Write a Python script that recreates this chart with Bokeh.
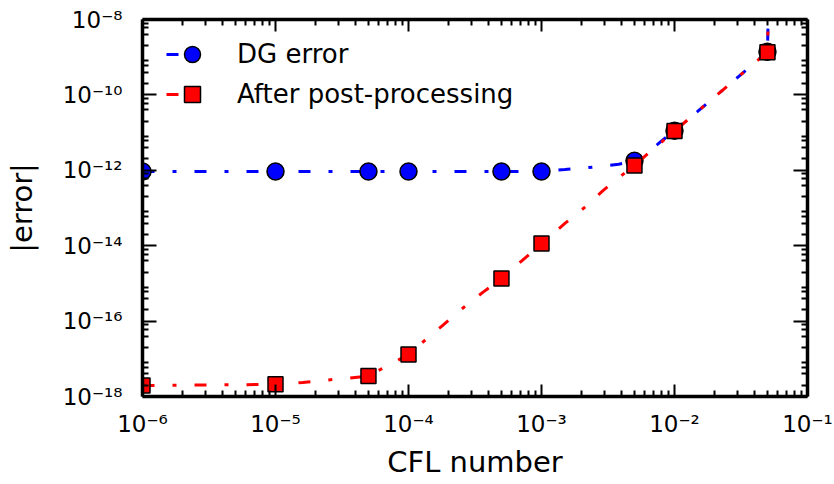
import math
from bokeh.plotting import figure
from bokeh.models import (Range1d, LogAxis, FixedTicker, CustomJSTickFormatter,
                          Legend, LegendItem)
from bokeh.embed import file_html
from bokeh.resources import INLINE

# ---- data ----
cfl = [1e-6, 1e-5, 5e-5, 1e-4, 5e-4, 1e-3, 5e-3, 1e-2, 5e-2]
dg_error = [9.3e-13, 9.3e-13, 9.3e-13, 9.3e-13, 9.3e-13, 9.3e-13, 1.8e-12, 1.12e-11, 1.4e-9]
pp_error = [1.95e-18, 2.1e-18, 3.5e-18, 1.3e-17, 1.35e-15, 1.15e-14, 1.35e-12, 1.1e-11, 1.35e-9]

# smooth fitted curves
curve_cfl = [1e-6, 2e-6, 5e-6, 1e-5, 1.6e-5, 2.5e-5, 3.5e-5, 5e-5, 6.2e-5, 7.5e-5,
             1e-4, 1.3e-4, 1.8e-4, 2.6e-4, 3.6e-4, 5e-4, 7e-4, 1e-3, 1.5e-3, 2.1e-3,
             2.9e-3, 3.8e-3, 5e-3, 6.3e-3, 8e-3, 1e-2, 1.5e-2, 2e-2, 3e-2, 4e-2,
             5e-2, 5.08e-2]
dg_curve = [9.3e-13, 9.3e-13, 9.3e-13, 9.3e-13, 9.3e-13, 9.3e-13, 9.3e-13, 9.3e-13,
            9.3e-13, 9.3e-13, 9.3e-13, 9.3e-13, 9.3e-13, 9.3e-13, 9.3e-13, 9.3e-13,
            9.3e-13, 9.5e-13, 1.05e-12, 1.15e-12, 1.3e-12, 1.45e-12, 1.75e-12, 3.0e-12,
            6.0e-12, 1.12e-11, 3.7e-11, 8.8e-11, 2.97e-10, 7.0e-10, 1.4e-9, 2e-8]
pp_curve = [1.95e-18, 2.0e-18, 2.05e-18, 2.1e-18, 2.35e-18, 2.75e-18, 3.05e-18, 3.5e-18,
            5.3e-18, 7.5e-18, 1.3e-17, 2.9e-17, 7.6e-17, 2.3e-16, 5.7e-16, 1.35e-15,
            3.8e-15, 1.1e-14, 3.9e-14, 1.02e-13, 2.9e-13, 6.3e-13, 1.35e-12, 2.75e-12,
            5.6e-12, 1.1e-11, 3.7e-11, 8.8e-11, 2.97e-10, 7.0e-10, 1.35e-9, 2e-8]

x_ticks = [1e-6, 1e-5, 1e-4, 1e-3, 1e-2, 1e-1]
x_tick_labels = ["10⁻⁶", "10⁻⁵", "10⁻⁴", "10⁻³", "10⁻²", "10⁻¹"]
y_ticks = [1e-18, 1e-16, 1e-14, 1e-12, 1e-10, 1e-8]
y_tick_labels = ["10⁻¹⁸", "10⁻¹⁶", "10⁻¹⁴", "10⁻¹²", "10⁻¹⁰", "10⁻⁸"]
x_minor = [m * 10.0 ** k for k in range(-6, -1) for m in range(2, 10)]
y_minor = [m * 10.0 ** k for k in range(-18, -8) for m in (2, 4, 6, 8)]

series_names = ["DG error", "After post-processing"]
x_title = "CFL number"
y_title = "|error|"

FONT = "DejaVu Sans"
BLUE = "#0000ff"
RED = "#ff0000"
DASH = "12 18 4 18"

p = figure(width=834, height=484, x_axis_type="log", y_axis_type="log",
           x_range=Range1d(1e-6, 1e-1), y_range=Range1d(1e-18, 1e-8),
           output_backend="svg", toolbar_location=None,
           min_border_left=142, min_border_right=27, min_border_top=19,
           min_border_bottom=88)
p.grid.visible = False
p.outline_line_color = None
p.background_fill_color = "white"
p.border_fill_color = "white"

fmt_code = """
let best = 0;
for (let i = 1; i < tv.length; i++) {
  if (Math.abs(Math.log10(tv[i] / tick)) < Math.abs(Math.log10(tv[best] / tick))) best = i;
}
return tl[best];
"""

bottom_axis = p.xaxis[0]
left_axis = p.yaxis[0]
bottom_axis.ticker = FixedTicker(ticks=x_ticks, minor_ticks=x_minor)
bottom_axis.formatter = CustomJSTickFormatter(args=dict(tv=x_ticks, tl=x_tick_labels), code=fmt_code)
left_axis.ticker = FixedTicker(ticks=y_ticks, minor_ticks=y_minor)
left_axis.formatter = CustomJSTickFormatter(args=dict(tv=y_ticks, tl=y_tick_labels), code=fmt_code)

top_axis = LogAxis(ticker=FixedTicker(ticks=x_ticks, minor_ticks=x_minor),
                   formatter=CustomJSTickFormatter(code="return '';"))
right_axis = LogAxis(ticker=FixedTicker(ticks=y_ticks, minor_ticks=y_minor),
                     formatter=CustomJSTickFormatter(code="return '';"))
p.add_layout(top_axis, "above")
p.add_layout(right_axis, "right")

for ax, maj in ((bottom_axis, 12), (top_axis, 12), (left_axis, 14), (right_axis, 14)):
    ax.axis_line_width = 3.5
    ax.axis_line_color = "black"
    ax.major_tick_in = maj
    ax.major_tick_out = 0
    ax.minor_tick_in = 6
    ax.minor_tick_out = 0
    ax.major_tick_line_width = 2
    ax.minor_tick_line_width = 2
    ax.major_tick_line_color = "black"
    ax.minor_tick_line_color = "black"
    ax.major_label_text_font = FONT
    ax.major_label_text_font_size = "23px"
    ax.major_label_text_color = "black"

top_axis.major_label_text_font_size = "1px"
right_axis.major_label_text_font_size = "1px"
top_axis.major_label_standoff = 0
right_axis.major_label_standoff = 0

bottom_axis.major_label_standoff = 14
bottom_axis.axis_label = x_title
bottom_axis.axis_label_standoff = 5
left_axis.major_label_standoff = 20
left_axis.axis_label = y_title
left_axis.axis_label_standoff = 21
for ax in (bottom_axis, left_axis):
    ax.axis_label_text_font = FONT
    ax.axis_label_text_font_size = "29px"
    ax.axis_label_text_font_style = "normal"
    ax.axis_label_text_color = "black"

dg_line = p.line(curve_cfl, dg_curve, line_color=BLUE, line_width=3, line_dash=DASH)
dg_pts = p.scatter(cfl, dg_error, marker="circle", size=17, fill_color=BLUE,
                   line_color="black", line_width=1.5)
pp_line = p.line(curve_cfl, pp_curve, line_color=RED, line_width=3, line_dash=DASH)
pp_pts = p.scatter(cfl, pp_error, marker="square", size=15, fill_color=RED,
                   line_color="black", line_width=1.5)

legend = Legend(items=[LegendItem(label=series_names[0], renderers=[dg_line, dg_pts]),
                       LegendItem(label=series_names[1], renderers=[pp_line, pp_pts])],
                location=(24, 282), glyph_width=52, glyph_height=40, spacing=0,
                label_standoff=19, padding=0, margin=0, border_line_color=None,
                background_fill_alpha=0, label_text_font=FONT,
                label_text_font_size="26px", label_text_color="black")
p.add_layout(legend)

open("out.html", "w").write(file_html(p, INLINE))
